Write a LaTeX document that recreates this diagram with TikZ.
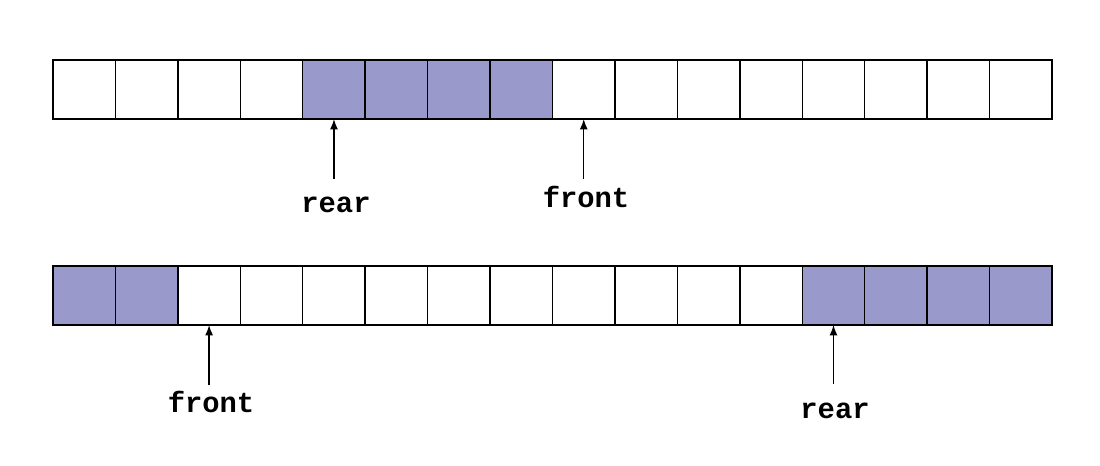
\documentclass[tikz,border=0pt]{standalone}
\usepackage{fontspec}
\setmonofont{Liberation Mono}
\usetikzlibrary{arrows.meta}
\definecolor{used}{HTML}{9999CC}
\tikzset{
  cell/.style={draw,line width=1pt,minimum width=1.561cm,minimum height=1.475cm,inner sep=0pt,outer sep=0pt},
  ptr/.style={line width=1pt,-{Latex[length=2.6mm,width=2mm]}},
  lbl/.style={font=\fontsize{20.5}{24}\selectfont\ttfamily\bfseries,anchor=base,inner sep=0pt}
}
\begin{document}
\begin{tikzpicture}[x=0.025cm,y=-0.025cm]
    \useasboundingbox (0,0) rectangle (1100,466);

    % queue in one piece
    \foreach \i in {0,...,15}{
      \ifnum\i<4 \def\c{white}\else\ifnum\i<8 \def\c{used}\else\def\c{white}\fi\fi
      \node[cell,fill=\c] (t\i) at ({53+62.44*(\i+0.5)},89.5) {};
    }

    % queue wrapped round
    \foreach \i in {0,...,15}{
      \ifnum\i<2 \def\c{used}\else\ifnum\i<12 \def\c{white}\else\def\c{used}\fi\fi
      \node[cell,fill=\c] (b\i) at ({53+62.44*(\i+0.5)},295.5) {};
    }

    \node[lbl] (rearA) at (336,212) {rear};
    \node[lbl] (frontA) at (586,207) {front};
    \node[lbl] (frontB) at (211,412) {front};
    \node[lbl] (rearB) at (835,418) {rear};

    \coordinate (rearAt) at (t4.south |- 0,179);
    \coordinate (frontAt) at (t8.south |- 0,179);
    \coordinate (frontBt) at (b2.south |- 0,385);
    \coordinate (rearBt) at (b12.south |- 0,384);

    \draw[ptr] (rearAt) -- (t4.south);
    \draw[ptr] (frontAt) -- (t8.south);
    \draw[ptr] (frontBt) -- (b2.south);
    \draw[ptr] (rearBt) -- (b12.south);
\end{tikzpicture}
\end{document}
